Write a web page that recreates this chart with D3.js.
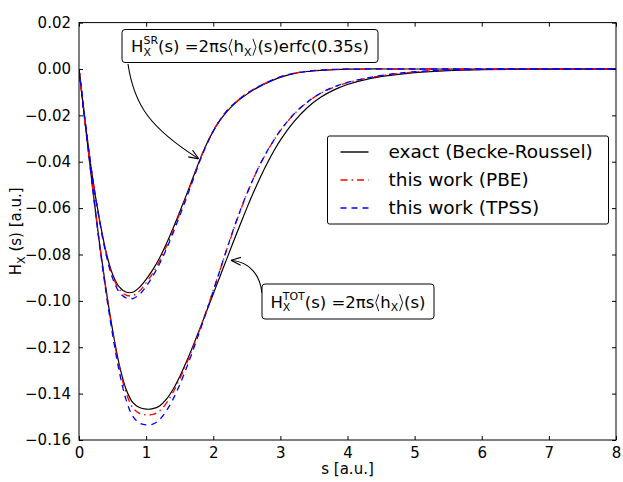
<!DOCTYPE html>
<html>
<head>
<meta charset="utf-8">
<script src="https://cdn.jsdelivr.net/npm/d3@7"></script>
<style>
  html, body { margin: 0; padding: 0; background: #fff; }
  svg { display: block; font-family: "DejaVu Sans", sans-serif; }
</style>
</head>
<body>
<svg id="chart" width="623" height="482"></svg>
<script>
// Reduced distance grid s [a.u.]
const sGrid = [0, 0.1, 0.2, 0.3, 0.4, 0.5, 0.6, 0.7, 0.8, 0.9, 1.0, 1.1, 1.2, 1.3, 1.4, 1.5,
  1.6, 1.7, 1.8, 1.9, 2.0, 2.1, 2.2, 2.3, 2.4, 2.5, 2.6, 2.7, 2.8, 2.9, 3.0, 3.2, 3.4, 3.6,
  3.8, 4.0, 4.3, 4.6, 5.0, 5.5, 6.0, 7.0, 8.0];

// Total exchange hole H_X^TOT(s)
const totExact = [0, -0.0255, -0.0505, -0.0740, -0.0945, -0.1125, -0.1275, -0.1380, -0.1438,
  -0.1460, -0.1467, -0.1465, -0.1453, -0.1425, -0.1382, -0.1327, -0.1263, -0.1193, -0.1120,
  -0.1045, -0.0970, -0.0895, -0.0820, -0.0745, -0.0672, -0.0600, -0.0532, -0.0468, -0.0409,
  -0.0355, -0.0307, -0.0228, -0.0167, -0.0122, -0.0090, -0.0067, -0.0044, -0.0029, -0.0016,
  -0.0007, -0.0003, -0.00005, 0];
const totPBE = [0, -0.0255, -0.0505, -0.0742, -0.0950, -0.1132, -0.1285, -0.1395, -0.1460,
  -0.1485, -0.1492, -0.1490, -0.1475, -0.1442, -0.1395, -0.1337, -0.1272, -0.1200, -0.1122,
  -0.1040, -0.0955, -0.0868, -0.0780, -0.0695, -0.0614, -0.0540, -0.0472, -0.0411, -0.0357,
  -0.0309, -0.0266, -0.0196, -0.0144, -0.0105, -0.0078, -0.0059, -0.0039, -0.0025, -0.0013,
  -0.0005, -0.0002, -0.00003, 0];
const totTPSS = [0, -0.0255, -0.0505, -0.0745, -0.0958, -0.1145, -0.1305, -0.1425, -0.1497,
  -0.1527, -0.1535, -0.1532, -0.1512, -0.1475, -0.1425, -0.1362, -0.1290, -0.1212, -0.1130,
  -0.1045, -0.0958, -0.0868, -0.0778, -0.0692, -0.0612, -0.0538, -0.0471, -0.0410, -0.0356,
  -0.0308, -0.0265, -0.0195, -0.0143, -0.0104, -0.0077, -0.0058, -0.0038, -0.0024, -0.0012,
  -0.0005, -0.0002, -0.00003, 0];

// Short-range exchange hole H_X^SR(s)
const srExact = [0, -0.0245, -0.0465, -0.0640, -0.0785, -0.0885, -0.0940, -0.0962, -0.0963,
  -0.0942, -0.0907, -0.0865, -0.0815, -0.0755, -0.0688, -0.0617, -0.0543, -0.0467, -0.0392,
  -0.0325, -0.0268, -0.0222, -0.0185, -0.0155, -0.0130, -0.0109, -0.0090, -0.0074, -0.0060,
  -0.0047, -0.0036, -0.0020, -0.0011, -0.0006, -0.0003, -0.0001, 0, 0, 0, 0, 0, 0, 0];
const srPBE = [0, -0.0245, -0.0466, -0.0643, -0.0790, -0.0893, -0.0950, -0.0975, -0.0977,
  -0.0958, -0.0922, -0.0880, -0.0828, -0.0767, -0.0697, -0.0624, -0.0549, -0.0470, -0.0392,
  -0.0324, -0.0266, -0.0219, -0.0181, -0.0152, -0.0127, -0.0106, -0.0088, -0.0072, -0.0058,
  -0.0045, -0.0034, -0.0019, -0.0010, -0.0005, -0.0002, -0.0001, 0, 0, 0, 0, 0, 0, 0];
const srTPSS = [0, -0.0245, -0.0467, -0.0646, -0.0796, -0.0902, -0.0962, -0.0987, -0.0990,
  -0.0973, -0.0938, -0.0893, -0.0840, -0.0778, -0.0708, -0.0633, -0.0557, -0.0478, -0.0397,
  -0.0328, -0.0268, -0.0220, -0.0182, -0.0152, -0.0127, -0.0106, -0.0088, -0.0072, -0.0058,
  -0.0045, -0.0034, -0.0019, -0.0010, -0.0005, -0.0002, -0.0001, 0, 0, 0, 0, 0, 0, 0];

const xTicks = [0, 1, 2, 3, 4, 5, 6, 7, 8];
const yTicks = [-0.16, -0.14, -0.12, -0.10, -0.08, -0.06, -0.04, -0.02, 0.00, 0.02];

const legendLabels = ["exact (Becke-Roussel)", "this work (PBE)", "this work (TPSS)"];

// Points the two annotation arrows refer to (s, H)
const srArrowAt = [1.8, -0.0392];
const totArrowAt = [2.25, -0.0825];

// ---------------------------------------------------------------
const svg = d3.select("#chart");
const defs = svg.append("defs");
const M = { left: 79, right: 616, top: 22.6, bottom: 440 };

const x = d3.scaleLinear().domain([0, 8]).range([M.left, M.right]);
const y = d3.scaleLinear().domain([-0.16, 0.02]).range([M.bottom, M.top]);

defs.append("clipPath").attr("id", "plotClip")
  .append("rect")
  .attr("x", M.left).attr("y", M.top)
  .attr("width", M.right - M.left).attr("height", M.bottom - M.top);

const styles = {
  exact: { color: "#000000", dash: null, width: 1.2 },
  pbe: { color: "#ff0000", dash: "7,4,1.5,4", width: 1.3 },
  tpss: { color: "#0000ff", dash: "6,5", width: 1.3 }
};

const line = d3.line()
  .x(d => x(d[0]))
  .y(d => y(d[1]))
  .curve(d3.curveCatmullRom.alpha(0.5));

const series = [
  { vals: srExact, st: styles.exact },
  { vals: totExact, st: styles.exact },
  { vals: srPBE, st: styles.pbe },
  { vals: totPBE, st: styles.pbe },
  { vals: srTPSS, st: styles.tpss },
  { vals: totTPSS, st: styles.tpss }
];

const curves = svg.append("g").attr("clip-path", "url(#plotClip)");
series.forEach(sr => {
  curves.append("path")
    .datum(sGrid.map((s, i) => [s, sr.vals[i]]))
    .attr("d", line)
    .attr("fill", "none")
    .attr("stroke", sr.st.color)
    .attr("stroke-width", sr.st.width)
    .attr("stroke-dasharray", sr.st.dash);
});

// Axes: inward ticks on all four sides, labels on left and bottom
const tickLen = 4;
const fmtY = d3.format(".2f");

const axB = d3.axisBottom(x).tickValues(xTicks).tickFormat(d3.format("d"))
  .tickSizeInner(-tickLen).tickSizeOuter(0).tickPadding(7);
const axT = d3.axisTop(x).tickValues(xTicks).tickFormat("")
  .tickSizeInner(-tickLen).tickSizeOuter(0);
const axL = d3.axisLeft(y).tickValues(yTicks).tickFormat(fmtY)
  .tickSizeInner(-tickLen).tickSizeOuter(0).tickPadding(8);
const axR = d3.axisRight(y).tickValues(yTicks).tickFormat("")
  .tickSizeInner(-tickLen).tickSizeOuter(0);

function styleAxis(g) {
  g.select(".domain").remove();
  g.selectAll(".tick line").attr("stroke", "#000").attr("stroke-width", 1);
  g.selectAll(".tick text").attr("fill", "#000")
    .attr("font-family", "DejaVu Sans, sans-serif").attr("font-size", 15);
}

svg.append("g").attr("transform", `translate(0,${M.bottom})`).call(axB).call(styleAxis)
  .selectAll(".tick text").attr("dy", "0.71em");
svg.append("g").attr("transform", `translate(0,${M.top})`).call(axT).call(styleAxis);
svg.append("g").attr("transform", `translate(${M.left},0)`).call(axL).call(styleAxis);
svg.append("g").attr("transform", `translate(${M.right},0)`).call(axR).call(styleAxis);

// Frame
svg.append("rect")
  .attr("x", M.left).attr("y", M.top)
  .attr("width", M.right - M.left).attr("height", M.bottom - M.top)
  .attr("fill", "none").attr("stroke", "#000").attr("stroke-width", 1);

// Axis titles
svg.append("text")
  .attr("x", (M.left + M.right) / 2).attr("y", 474)
  .attr("text-anchor", "middle").attr("font-size", 15)
  .text("s [a.u.]");

const yTitle = svg.append("text")
  .attr("transform", `translate(21,${(M.top + M.bottom) / 2}) rotate(-90)`)
  .attr("text-anchor", "middle").attr("font-size", 15);
yTitle.append("tspan").text("H");
yTitle.append("tspan").attr("font-size", 11).attr("dy", 4).text("X");
yTitle.append("tspan").attr("dy", -4).text(" (s) [a.u.]");

// Inline math-like label: plain runs, stacked super/subscript pairs and
// thin angle brackets drawn as strokes
function mathText(g, x0, yBase, parts, size) {
  let cx = x0;
  const small = size * 0.66;
  parts.forEach(p => {
    if (p.bracket) {
      const w = size * 0.36, top = yBase - size * 0.8, bot = yBase + size * 0.22;
      const mid = (top + bot) / 2;
      const pts = p.bracket === "<"
        ? [[cx + w * 0.75, top], [cx + w * 0.25, mid], [cx + w * 0.75, bot]]
        : [[cx + w * 0.25, top], [cx + w * 0.75, mid], [cx + w * 0.25, bot]];
      g.append("path").attr("d", d3.line()(pts))
        .attr("fill", "none").attr("stroke", "#000").attr("stroke-width", 0.9);
      cx += w;
    } else if (p.sup !== undefined || p.sub !== undefined) {
      let w = 0;
      if (p.sup) {
        const t = g.append("text").attr("x", cx).attr("y", yBase - size * 0.46)
          .attr("font-size", small).text(p.sup);
        w = Math.max(w, t.node().getComputedTextLength());
      }
      if (p.sub) {
        const t = g.append("text").attr("x", cx).attr("y", yBase + size * 0.22)
          .attr("font-size", small).text(p.sub);
        w = Math.max(w, t.node().getComputedTextLength());
      }
      cx += w;
    } else {
      const t = g.append("text").attr("x", cx).attr("y", yBase)
        .attr("font-size", size).text(p.t);
      cx += t.node().getComputedTextLength();
    }
  });
  return cx - x0;
}

// Open arrowhead marker
defs.append("marker")
  .attr("id", "openArrow")
  .attr("viewBox", "0 0 10 10")
  .attr("refX", 10).attr("refY", 5)
  .attr("markerWidth", 10).attr("markerHeight", 10)
  .attr("markerUnits", "userSpaceOnUse")
  .attr("orient", "auto")
  .append("path")
  .attr("d", "M0,1 L10,5 L0,9")
  .attr("fill", "none").attr("stroke", "#000").attr("stroke-width", 1.1);

function annotation(box, parts, pathD) {
  const g = svg.append("g");
  g.append("path")
    .attr("d", pathD)
    .attr("fill", "none").attr("stroke", "#000").attr("stroke-width", 1.1)
    .attr("marker-end", "url(#openArrow)");
  g.append("rect")
    .attr("x", box.x).attr("y", box.y).attr("width", box.w).attr("height", box.h)
    .attr("rx", 3).attr("ry", 3)
    .attr("fill", "#fff").attr("stroke", "#000").attr("stroke-width", 1);
  const tg = g.append("g");
  const w = mathText(tg, 0, 0, parts, 16.5);
  tg.attr("transform", `translate(${box.x + (box.w - w) / 2},${box.y + box.h / 2 + 6})`);
}

const srTip = [x(srArrowAt[0]) - 1, y(srArrowAt[1]) - 1];
annotation(
  { x: 122, y: 29.5, w: 256, h: 33 },
  [{ t: "H" }, { sup: "SR", sub: "X" }, { t: "(s) =2πs" }, { bracket: "<" }, { t: "h" },
   { sub: "X" }, { t: " " }, { bracket: ">" }, { t: "(s)erfc(0.35s)" }],
  `M128,64 C134,105 150,128 ${srTip[0]},${srTip[1]}`
);

const totTip = [x(totArrowAt[0]) + 1, y(totArrowAt[1])];
annotation(
  { x: 262, y: 284, w: 172, h: 35 },
  [{ t: "H" }, { sup: "TOT", sub: "X" }, { t: "(s) =2πs" }, { bracket: "<" }, { t: "h" },
   { sub: "X" }, { t: " " }, { bracket: ">" }, { t: "(s)" }],
  `M262,293 C260,275 250,262 ${totTip[0]},${totTip[1]}`
);

// Legend
const leg = svg.append("g");
leg.append("rect")
  .attr("x", 327.5).attr("y", 136).attr("width", 281).attr("height", 88)
  .attr("rx", 2).attr("ry", 2)
  .attr("fill", "#fff").attr("stroke", "#000").attr("stroke-width", 1);
const legStyles = [styles.exact, styles.pbe, styles.tpss];
legendLabels.forEach((lab, i) => {
  const yy = 152 + i * 28;
  leg.append("line")
    .attr("x1", 340.5).attr("x2", 368.5).attr("y1", yy).attr("y2", yy)
    .style("stroke", legStyles[i].color).style("stroke-width", 1.4)
    .style("stroke-dasharray", legStyles[i].dash || "none");
  leg.append("text")
    .attr("x", 388.5).attr("y", yy + 6)
    .attr("font-size", 18.5).text(lab);
});
</script>
</body>
</html>
